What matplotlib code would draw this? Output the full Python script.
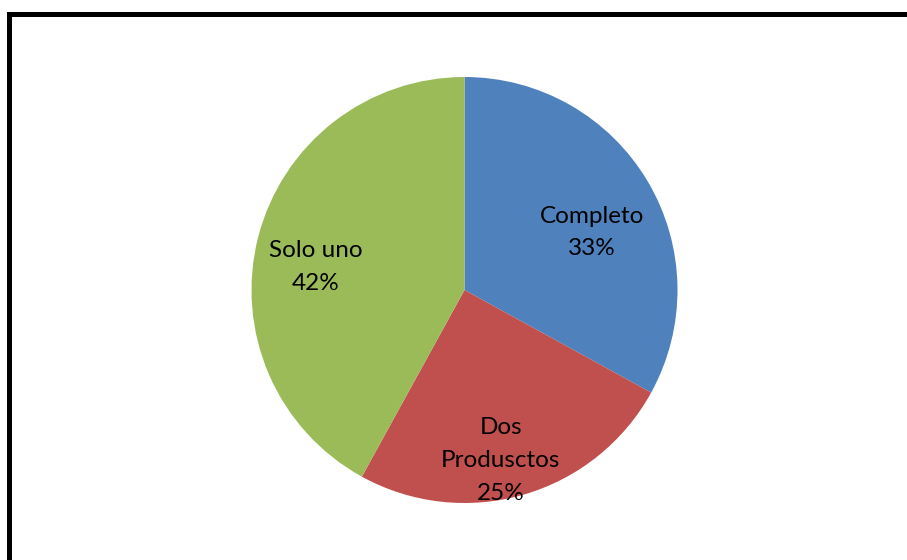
import matplotlib
matplotlib.use("Agg")
import matplotlib.pyplot as plt
from matplotlib.lines import Line2D

categories = ["Completo", "Dos\nProdusctos", "Solo uno"]
values = [33, 25, 42]
colors = ["#4F81BD", "#C0504D", "#9BBB59"]
# label anchor positions (data units, pie radius = 1)
label_x = [0.60, 0.17, -0.70]
label_y = [0.27, -0.80, 0.11]

W, H = 907, 560
fig = plt.figure(figsize=(W / 100, H / 100), dpi=100)
fig.patch.set_facecolor("white")

cx, cy, r = 464.5, 290, 213
ax = fig.add_axes([(cx - r) / W, 1 - (cy + r) / H, 2 * r / W, 2 * r / H])
ax.pie(values, colors=colors, startangle=90, counterclock=False, radius=1,
       wedgeprops=dict(linewidth=0))
ax.set_xlim(-1, 1)
ax.set_ylim(-1, 1)
ax.set_aspect("equal")
ax.axis("off")

for cat, v, x, y in zip(categories, values, label_x, label_y):
    ax.text(x, y, f"{cat}\n{v}%", ha="center", va="center", fontsize=17.5,
            family="Lato", linespacing=1.7, color="black")

# border frame (cut at right and bottom like the reference)
lw = 5 * 72 / 100
fig.add_artist(Line2D([8.5 / W, 8.5 / W], [0, 1 - 13.5 / H], color="black", lw=lw,
                      transform=fig.transFigure, solid_capstyle="projecting"))
fig.add_artist(Line2D([8.5 / W, 1], [1 - 13.5 / H, 1 - 13.5 / H], color="black", lw=lw,
                      transform=fig.transFigure, solid_capstyle="projecting"))

fig.savefig("out.png", dpi=100, facecolor="white")
